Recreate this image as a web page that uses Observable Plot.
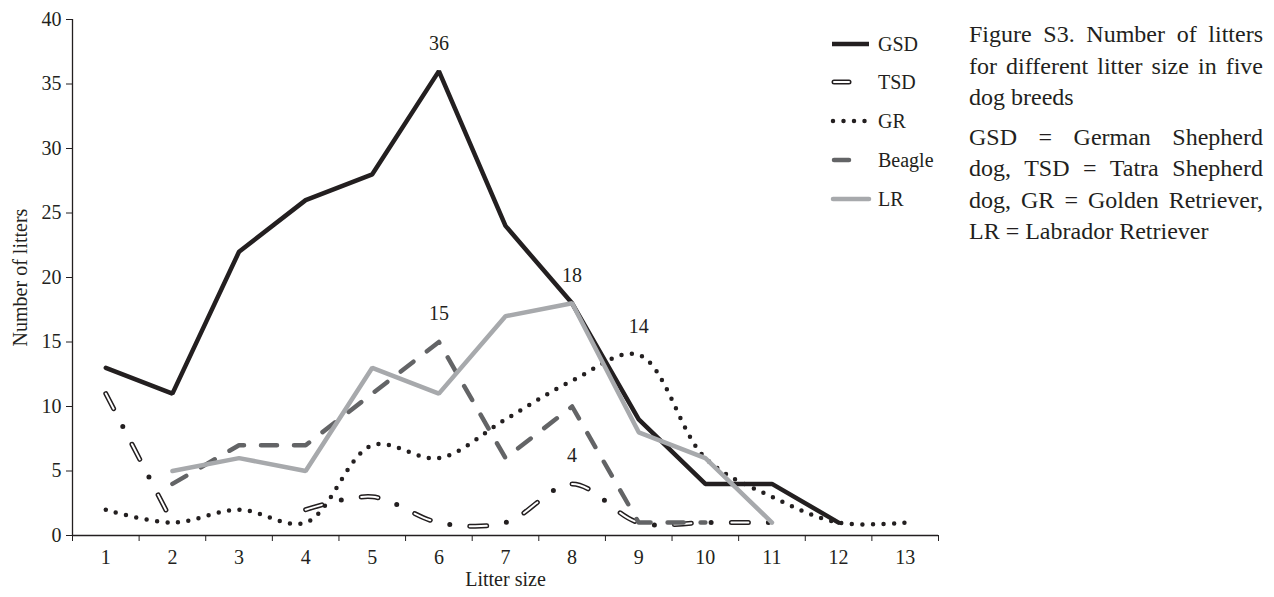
<!DOCTYPE html>
<html>
<head>
<meta charset="utf-8">
<script src="https://cdn.jsdelivr.net/npm/d3@7"></script>
<script src="https://cdn.jsdelivr.net/npm/@observablehq/plot@0.6"></script>
<style>
  html, body { margin: 0; padding: 0; background: #fff; }
  #wrap { position: relative; width: 1274px; height: 597px; overflow: hidden; }
  #chart { position: absolute; left: 0; top: 0; }
  #legend { position: absolute; left: 0; top: 0; }
  #caption { position: absolute; left: 969px; top: 19px; width: 294px;
    font-family: "Liberation Serif", serif; font-size: 24px; color: #231f20; }
  #caption .blk { margin-bottom: 8px; }
  #caption .ln { line-height: 31.5px; white-space: nowrap; }
  #caption .j { text-align: justify; text-align-last: justify; }
</style>
</head>
<body>
<div id="wrap">
  <div id="chart"></div>
  <svg id="legend" width="960" height="260"></svg>
  <div id="caption">
    <div class="blk">
      <div class="ln j">Figure S3. Number of litters</div>
      <div class="ln j">for different litter size in five</div>
      <div class="ln">dog breeds</div>
    </div>
    <div class="blk">
      <div class="ln j">GSD = German Shepherd</div>
      <div class="ln j">dog, TSD = Tatra Shepherd</div>
      <div class="ln j">dog, GR = Golden Retriever,</div>
      <div class="ln">LR = Labrador Retriever</div>
    </div>
  </div>
</div>
<script>
// ---- data ----
const litterSize = [1, 2, 3, 4, 5, 6, 7, 8, 9, 10, 11, 12, 13];
const gsd    = [13, 11, 22, 26, 28, 36, 24, 18, 9, 4, 4, 1, null];
const tsd    = [11, 1, null, 2, 3, 1, 1, 4, 1, 1, 1, null, null];
const gr     = [2, 1, 2, 1, 7, 6, 9, 12, 14, 6, 3, 1, 1];
const beagle = [null, 4, 7, 7, 11, 15, 6, 10, 1, 1, null, null, null];
const lr     = [null, 5, 6, 5, 13, 11, 17, 18, 8, 6, 1, null, null];
const breeds = ["GSD", "TSD", "GR", "Beagle", "LR"];
const yTicks = [0, 5, 10, 15, 20, 25, 30, 35, 40];
const labelSize  = [6, 8, 6, 9, 8];
const labelValue = [36, 18, 15, 14, 4];

const rows = arr => litterSize.map((x, i) => ({x, y: arr[i]}));
const boundaries = d3.range(0.5, 13.6, 1);
const ink = "#231f20";
const font = "Liberation Serif, serif";
const lab = labelSize.map((x, i) => ({x, y: labelValue[i], t: String(labelValue[i])}));

const chart = Plot.plot({
  width: 950, height: 597,
  marginLeft: 72, marginRight: 12, marginTop: 19, marginBottom: 62,
  x: {domain: [0.5, 13.5]},
  y: {domain: [0, 40]},
  style: {fontFamily: font, fontSize: "20px", color: ink, background: "white"},
  marks: [
    Plot.axisY({ticks: yTicks, tickSize: 6, tickPadding: 5, label: "Number of litters",
      labelAnchor: "center", labelArrow: "none", labelOffset: 60, stroke: ink}),
    Plot.axisX({ticks: boundaries, tickSize: 6, tickFormat: () => "", label: null, stroke: ink}),
    Plot.axisX({ticks: litterSize, tickSize: 0, tickPadding: 14, label: "Litter size",
      labelAnchor: "center", labelArrow: "none", labelOffset: 50}),
    Plot.ruleY([0], {stroke: ink, strokeWidth: 1.3}),
    Plot.ruleX([0.5], {stroke: ink, strokeWidth: 1.3}),
    // GSD
    Plot.line(rows(gsd), {x: "x", y: "y", stroke: ink, strokeWidth: 4.5, strokeLinejoin: "miter"}),
    // TSD (hollow dash + dot)
    Plot.line(rows(tsd), {x: "x", y: "y", curve: "catmull-rom", stroke: ink, strokeWidth: 5,
      strokeLinecap: "round", strokeDasharray: "17 20 0 20"}),
    Plot.line(rows(tsd), {x: "x", y: "y", curve: "catmull-rom", stroke: "white", strokeWidth: 2,
      strokeLinecap: "round", strokeDasharray: "17 40"}),
    // GR dotted
    Plot.line(rows(gr), {x: "x", y: "y", curve: "catmull-rom", stroke: ink, strokeWidth: 4.5,
      strokeLinecap: "round", strokeDasharray: "0 10.5"}),
    // Beagle dashed
    Plot.line(rows(beagle), {x: "x", y: "y", stroke: "#636466", strokeWidth: 4.5,
      strokeLinecap: "round", strokeDasharray: "16 17"}),
    // LR
    Plot.line(rows(lr), {x: "x", y: "y", stroke: "#a7a9ac", strokeWidth: 4.5, strokeLinejoin: "miter"}),
    Plot.text(lab, {x: "x", y: "y", text: "t", dy: -28, fill: ink, fontSize: 20})
  ]
});
document.getElementById("chart").appendChild(chart);

// ---- legend ----
const lg = d3.select("#legend");
const ly = [44, 82, 121, 160, 199];
breeds.forEach((b, i) => {
  const y = ly[i];
  const g = lg.append("g");
  if (b === "GSD") g.append("line").attr("x1", 832).attr("x2", 869).attr("y1", y).attr("y2", y)
      .attr("stroke", ink).attr("stroke-width", 4.5);
  if (b === "TSD") {
    g.append("line").attr("x1", 834).attr("x2", 849).attr("y1", y).attr("y2", y)
      .attr("stroke", ink).attr("stroke-width", 5).attr("stroke-linecap", "round");
    g.append("line").attr("x1", 834).attr("x2", 849).attr("y1", y).attr("y2", y)
      .attr("stroke", "white").attr("stroke-width", 2).attr("stroke-linecap", "round");
  }
  if (b === "GR") g.append("line").attr("x1", 833).attr("x2", 869).attr("y1", y).attr("y2", y)
      .attr("stroke", ink).attr("stroke-width", 4.5).attr("stroke-linecap", "round").attr("stroke-dasharray", "0 10.5");
  if (b === "Beagle") g.append("line").attr("x1", 834).attr("x2", 849).attr("y1", y).attr("y2", y)
      .attr("stroke", "#636466").attr("stroke-width", 4.5).attr("stroke-linecap", "round");
  if (b === "LR") g.append("line").attr("x1", 833).attr("x2", 869).attr("y1", y).attr("y2", y)
      .attr("stroke", "#a7a9ac").attr("stroke-width", 4.5).attr("stroke-linecap", "round");
  g.append("text").attr("x", 878).attr("y", y).attr("dy", "0.35em").text(b)
    .attr("font-family", font).attr("font-size", 20).attr("fill", ink);
});
</script>
</body>
</html>
